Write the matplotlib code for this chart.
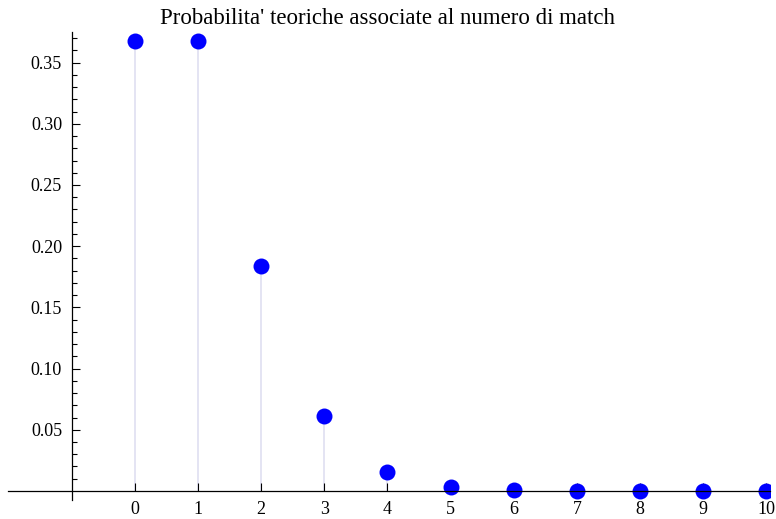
import matplotlib

matplotlib.use("Agg")
import matplotlib.pyplot as plt  # noqa: E402
from matplotlib.ticker import FixedLocator  # noqa: E402

# number of matches and theoretical probabilities
matches = [0, 1, 2, 3, 4, 5, 6, 7, 8, 9, 10]
probs = [0.368, 0.368, 0.184, 0.0613, 0.0153, 0.00307, 0.00051,
         0.000073, 0.0000091, 0.000001, 0.0000001]
yticks = [0.05, 0.10, 0.15, 0.20, 0.25, 0.30, 0.35]
ytick_labels = ["0.05", "0.10", "0.15", "0.20", "0.25", "0.30", "0.35"]

W, H = 776, 519
plt.rcParams["font.family"] = ["Liberation Serif", "DejaVu Serif"]

fig = plt.figure(figsize=(W / 100, H / 100), dpi=100)
ax = fig.add_axes([8 / W, (H - 500) / H, (770 - 8) / W, (500 - 32) / H])
ax.set_xlim(-2.01, 10.06)
ax.set_ylim(-0.0074, 0.375)

ax.vlines(matches, 0, probs, color="#dcdcf0", lw=1.1, zorder=1)
ax.plot(matches, probs, "o", ms=11.5, color="#0000ff", mec="none", zorder=3)

for side in ("top", "right"):
    ax.spines[side].set_visible(False)
ax.spines["left"].set_position(("data", -1))
ax.spines["bottom"].set_position(("data", 0))
for side in ("left", "bottom"):
    ax.spines[side].set_linewidth(0.9)
    ax.spines[side].set_zorder(4)

ax.set_xticks(matches)
ax.set_xticklabels([str(m) for m in matches])
ax.set_yticks(yticks)
ax.set_yticklabels(ytick_labels)
minor = [i / 100 for i in range(0, 38) if i % 5 != 0]
ax.yaxis.set_minor_locator(FixedLocator(minor))

ax.tick_params(axis="both", which="major", direction="in", length=6,
               width=0.8, labelsize=13, colors="black", pad=7)
ax.tick_params(axis="y", which="minor", direction="in", length=3.5,
               width=0.8)
ax.tick_params(axis="x", which="major", pad=7)

fig.text(0.5, 1 - 18 / H, "Probabilita' teoriche associate al numero di match",
         ha="center", va="center", fontsize=16.5)

fig.savefig("out.png", dpi=100)
